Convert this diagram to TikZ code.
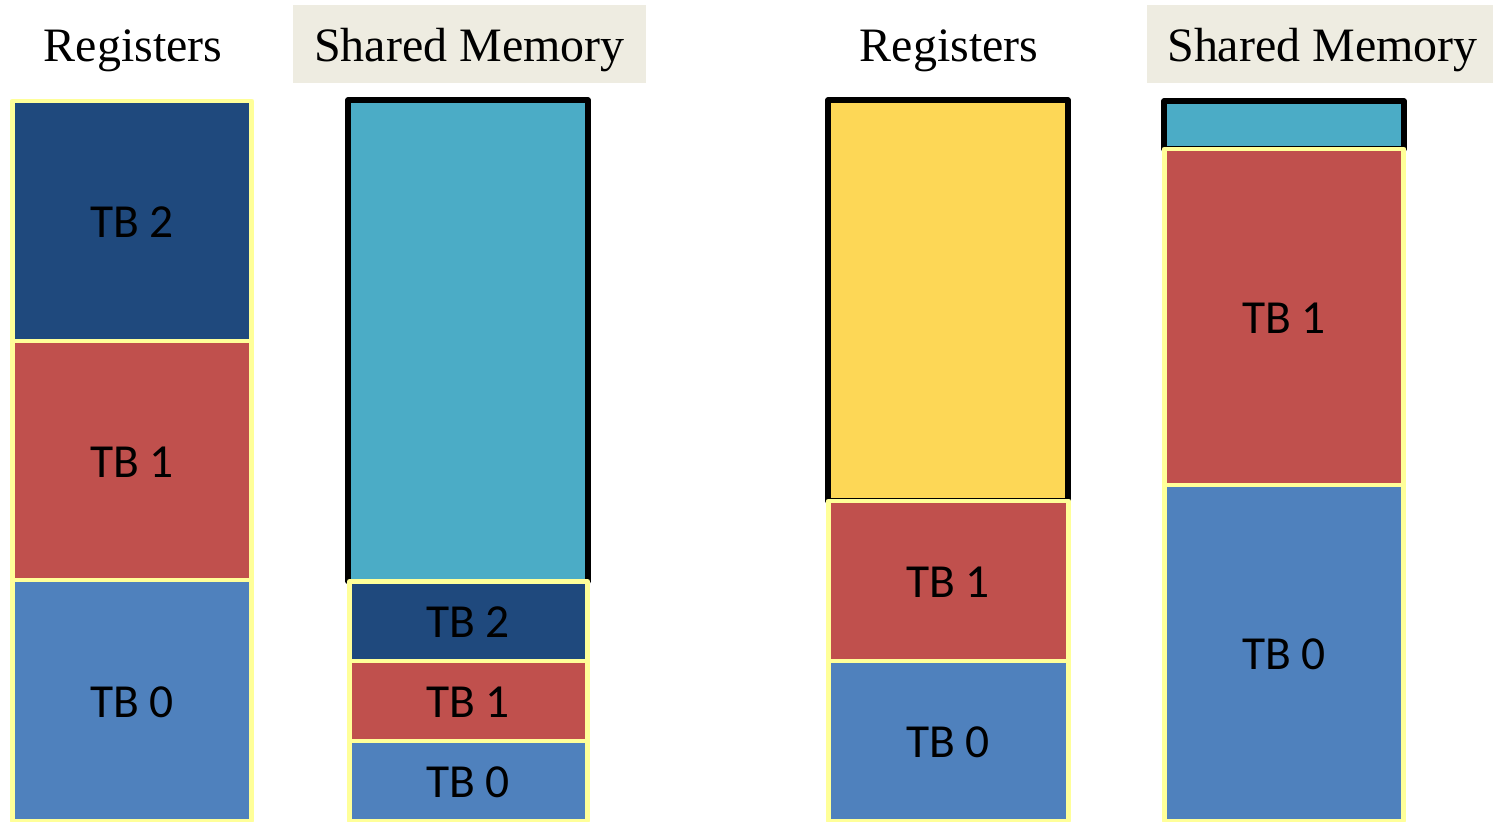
\documentclass[tikz,border=0pt]{standalone}
\usepackage{fontspec}
\setmainfont{Liberation Serif}
\newfontfamily\tbfont{Carlito}
\definecolor{tbdark}{HTML}{1F497D}
\definecolor{tbred}{HTML}{C0504D}
\definecolor{tbblue}{HTML}{4F81BD}
\definecolor{freeteal}{HTML}{4BACC6}
\definecolor{freegold}{HTML}{FDD756}
\definecolor{edgeyellow}{HTML}{FFFF99}
\definecolor{headbg}{HTML}{EEECE1}
\begin{document}
\begin{tikzpicture}[x=0.02cm,y=-0.02cm,
  blk/.style={draw=edgeyellow,line width=2.8pt,line join=round},
  pool/.style={draw=black,line width=3.2pt,line join=round},
  lbl/.style={font=\tbfont\fontsize{27}{30}\selectfont,text=black,inner sep=0pt},
  head/.style={font=\fontsize{27.3}{32}\selectfont,text=black,inner sep=0pt,anchor=base},
  headbox/.style={fill=headbg}]
\useasboundingbox (0,0) rectangle (1493,821);
\clip (0,0) rectangle (1493,821);

% ---- column headers ----
\node[head] (regA) at (133,62) {Registers};
\path[headbox] (293,5) rectangle (646,83);
\node[head] (smA) at (469.5,62) {Shared Memory};
\node[head] (regB) at (949,62) {Registers};
\path[headbox] (1147,5) rectangle (1493,83);
\node[head] (smB) at (1322.5,62) {Shared Memory};

% ---- configuration 1: registers ----
\filldraw[blk,fill=tbdark] (12.5,101) rectangle (251.5,341);
\filldraw[blk,fill=tbred]  (12.5,341) rectangle (251.5,580);
\filldraw[blk,fill=tbblue] (12.5,580) rectangle (251.5,821);
\node[lbl] (a2) at (132,222.5) {TB 2};
\node[lbl] (a1) at (132,462.5) {TB 1};
\node[lbl] (a0) at (132,702.5) {TB 0};

% ---- configuration 1: shared memory ----
\filldraw[pool,fill=freeteal] (348,100) rectangle (588,581.5);
\filldraw[blk,fill=tbdark] (349.5,581.5) rectangle (587.5,661);
\filldraw[blk,fill=tbred]  (349.5,661) rectangle (587.5,741);
\filldraw[blk,fill=tbblue] (349.5,741) rectangle (587.5,821);
\node[lbl] (b2) at (468,622.5) {TB 2};
\node[lbl] (b1) at (468,702.5) {TB 1};
\node[lbl] (b0) at (468,782.5) {TB 0};

% ---- configuration 2: registers ----
\filldraw[pool,fill=freegold] (828,100) rectangle (1068,501);
\filldraw[blk,fill=tbred]  (828.5,501) rectangle (1068.5,661);
\filldraw[blk,fill=tbblue] (828.5,661) rectangle (1068.5,821);
\node[lbl] (c1) at (948,582.5) {TB 1};
\node[lbl] (c0) at (948,742.5) {TB 0};

% ---- configuration 2: shared memory ----
\filldraw[pool,fill=freeteal] (1164,101) rectangle (1404,149);
\filldraw[blk,fill=tbred]  (1164.5,149) rectangle (1403.5,485);
\filldraw[blk,fill=tbblue] (1164.5,485) rectangle (1403.5,821);
\node[lbl] (d1) at (1284,318.5) {TB 1};
\node[lbl] (d0) at (1284,654.5) {TB 0};
\end{tikzpicture}
\end{document}
